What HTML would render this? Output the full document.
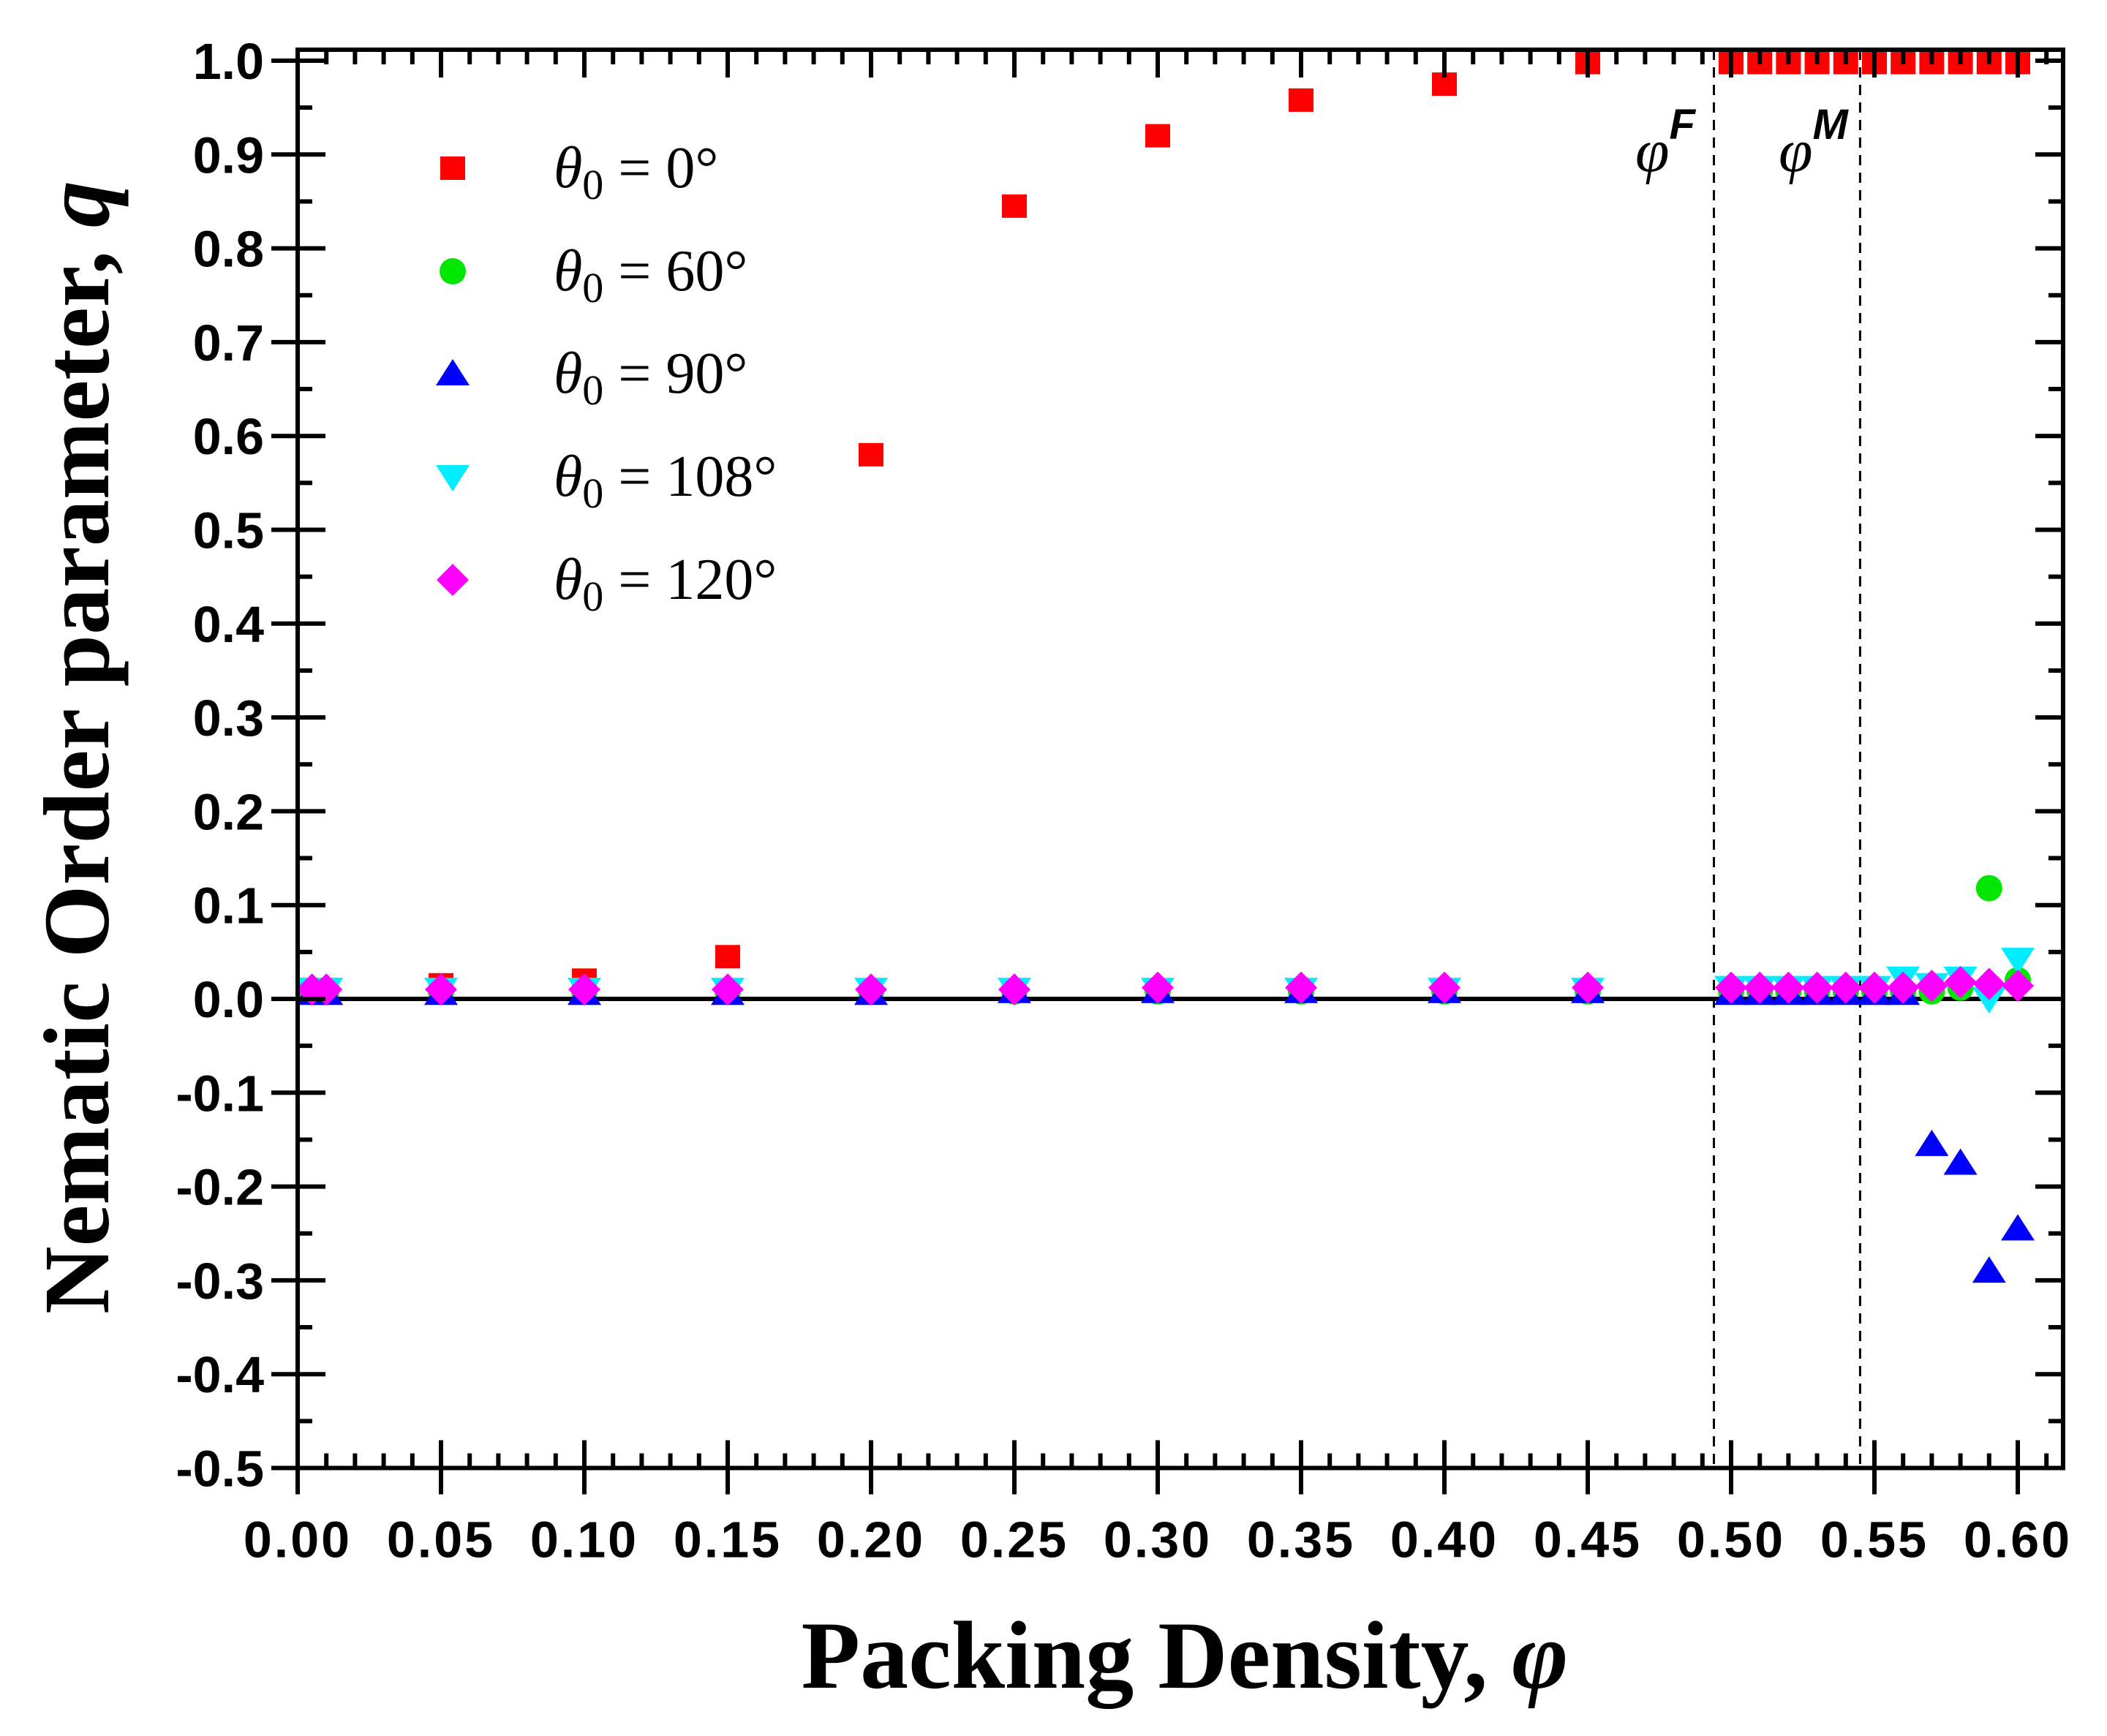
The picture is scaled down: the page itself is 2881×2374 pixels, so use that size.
<!DOCTYPE html>
<html><head><meta charset="utf-8"><style>
html,body{margin:0;padding:0;background:#fff;}
svg{display:block;}
text{font-family:"Liberation Sans",Arial,sans-serif;}
</style></head><body>
<svg id="chart" width="2881" height="2374" viewBox="0 0 2881 2374" xmlns="http://www.w3.org/2000/svg">
<rect x="0" y="0" width="2881" height="2374" fill="#fff"/>
<g id="grid"></g>
<g id="marks"></g>
<g id="axes"></g>
</svg>
<script>
const xTicks = [0,0.05,0.10,0.15,0.20,0.25,0.30,0.35,0.40,0.45,0.50,0.55,0.60];
const xTickLabels = ["0.00","0.05","0.10","0.15","0.20","0.25","0.30","0.35","0.40","0.45","0.50","0.55","0.60"];
const yTicks = [1.0,0.9,0.8,0.7,0.6,0.5,0.4,0.3,0.2,0.1,0.0,-0.1,-0.2,-0.3,-0.4,-0.5];
const yTickLabels = ["1.0","0.9","0.8","0.7","0.6","0.5","0.4","0.3","0.2","0.1","0.0","-0.1","-0.2","-0.3","-0.4","-0.5"];
const phiLines = [0.494, 0.545];

const xs = [0.005,0.01,0.05,0.10,0.15,0.20,0.25,0.30,0.35,0.40,0.45,0.50,0.51,0.52,0.53,0.54,0.55,0.56,0.57,0.58,0.59,0.60];
const q0 = [0.01,0.01,0.015,0.02,0.045,0.58,0.845,0.92,0.958,0.975,0.998,0.998,0.998,0.998,0.998,0.998,0.998,0.998,0.998,0.998,0.998,0.998];
const q60 = [0.008,0.008,0.008,0.008,0.008,0.008,0.008,0.008,0.008,0.008,0.008,0.008,0.008,0.008,0.008,0.008,0.008,0.008,0.008,0.012,0.118,0.02];
const q90 = [0.006,0.006,0.006,0.006,0.006,0.006,0.008,0.008,0.008,0.008,0.008,0.006,0.006,0.006,0.006,0.006,0.006,0.006,-0.155,-0.175,-0.29,-0.245];
const q108 = [0.01,0.01,0.01,0.01,0.01,0.01,0.01,0.01,0.01,0.01,0.01,0.012,0.012,0.012,0.012,0.012,0.012,0.022,0.015,0.022,0.0,0.042];
const q120 = [0.01,0.01,0.01,0.01,0.01,0.01,0.01,0.012,0.012,0.012,0.012,0.012,0.012,0.012,0.012,0.012,0.012,0.012,0.014,0.018,0.016,0.014];

const X0=407, XPER=3920, XMAX=0.6158;
const YZ=1366, YPER=1283;
const xS = v => X0 + v*XPER;
const yS = v => YZ - v*YPER;
const NS="http://www.w3.org/2000/svg";
function mk(tag, attrs, parent){const e=document.createElementNS(NS,tag);for(const k in attrs)e.setAttribute(k,attrs[k]);parent.appendChild(e);return e;}
const axes=document.getElementById('axes'), marks=document.getElementById('marks'), grid=document.getElementById('grid');
const L=xS(0), R=xS(XMAX), T=68, B=yS(-0.5);

phiLines.forEach((p,i)=>{
  const l=mk('line',{x1:xS(p),x2:xS(p),y1:T,y2:B,stroke:'#000','stroke-width':3,'stroke-dasharray':'14,10'},grid);
  
  
});
const zl=mk('line',{x1:L,x2:R,y1:yS(0),y2:yS(0),stroke:'#000','stroke-width':6},grid);



function sq(x,y,c,p){return mk('rect',{x:x-17,y:y-16,width:34,height:32,fill:c},p);}
function circ(x,y,c,p){return mk('circle',{cx:x,cy:y,r:18,fill:c},p);}
function tri(x,y,c,p){return mk('polygon',{points:`${x},${y-20} ${x-23},${y+16} ${x+23},${y+16}`,fill:c},p);}
function itri(x,y,c,p){return mk('polygon',{points:`${x},${y+20} ${x-23},${y-16} ${x+23},${y-16}`,fill:c},p);}
function dia(x,y,c,p){return mk('polygon',{points:`${x},${y-22} ${x+22},${y} ${x},${y+22} ${x-22},${y}`,fill:c},p);}
const series=[
  {d:q0,f:sq,c:'#ff0000',n:'theta-0'},
  {d:q60,f:circ,c:'#00e600',n:'theta-60'},
  {d:q90,f:tri,c:'#0000ff',n:'theta-90'},
  {d:q108,f:itri,c:'#00eeff',n:'theta-108'},
  {d:q120,f:dia,c:'#ff00ff',n:'theta-120'}
];
series.forEach(s=>{
  s.d.forEach((v,i)=>{
    const e=s.f(xS(xs[i]),yS(v),s.c,marks);
    
    
  });
});

const fr=mk('rect',{x:L,y:T,width:R-L,height:B-T,fill:'none',stroke:'#000','stroke-width':6},axes);



yTicks.forEach((v,i)=>{
  const y=yS(v);
  mk('line',{x1:L-36,x2:L+38,y1:y,y2:y,stroke:'#000','stroke-width':6},axes);
  mk('line',{x1:R-38,x2:R,y1:y,y2:y,stroke:'#000','stroke-width':6},axes);
  if(i<yTicks.length-1){const ym=yS(v-0.05);
    mk('line',{x1:L,x2:L+20,y1:ym,y2:ym,stroke:'#000','stroke-width':6},axes);
    mk('line',{x1:R-20,x2:R,y1:ym,y2:ym,stroke:'#000','stroke-width':6},axes);}
  const t=mk('text',{x:L-46,y:y+25,'text-anchor':'end','font-size':70,'font-weight':'bold',fill:'#000'},axes);
  t.textContent=yTickLabels[i];
  
  
});
xTicks.forEach((v,i)=>{
  const x=xS(v);
  mk('line',{x1:x,x2:x,y1:B-38,y2:B+36,stroke:'#000','stroke-width':6},axes);
  mk('line',{x1:x,x2:x,y1:T,y2:T+38,stroke:'#000','stroke-width':6},axes);
  const t=mk('text',{x:x,y:B+122,'text-anchor':'middle','font-size':70,'font-weight':'bold','letter-spacing':3,fill:'#000'},axes);
  t.textContent=xTickLabels[i];
  
  
});
for(let k=1;k<=61;k++){ if(k%5===0) continue; const x=xS(k*0.01);
  mk('line',{x1:x,x2:x,y1:B-20,y2:B,stroke:'#000','stroke-width':6},axes);
  mk('line',{x1:x,x2:x,y1:T,y2:T+20,stroke:'#000','stroke-width':6},axes);}

const xt=mk('text',{x:1620,y:2308,'text-anchor':'middle','font-size':132,'font-weight':'bold',fill:'#000'},axes);
xt.style.fontFamily='"Liberation Serif",serif';
xt.innerHTML='Packing Density, <tspan font-style="italic">φ</tspan>';


const yt=mk('text',{x:0,y:0,'text-anchor':'middle','font-size':128,'font-weight':'bold',fill:'#000',transform:'translate(148,1022) rotate(-90)'},axes);
yt.style.fontFamily='"Liberation Serif",serif';
yt.innerHTML='Nematic Order parameter, <tspan font-style="italic">q</tspan>';



[['F',2236],['M',2432]].forEach(([s,x])=>{
  const t=mk('text',{x:x,y:234,'font-size':84,fill:'#000','font-style':'italic'},axes);
  t.style.fontFamily='"Liberation Serif",serif';
  t.innerHTML='φ<tspan dy="-44" font-size="58" font-weight="bold" font-family="Liberation Sans">'+s+'</tspan>';
  
  
});

const legLabels=['0°','60°','90°','108°','120°'];
const legY=[230,371,511,652,793];
series.forEach((s,i)=>{
  const g=mk('g',{},axes);
  
  
  s.f(619,legY[i],s.c,g);
  const t=mk('text',{x:757,y:legY[i]+26,'font-size':80,fill:'#000'},g);
  t.style.fontFamily='"Liberation Serif",serif';
  t.innerHTML='<tspan font-style="italic">θ</tspan><tspan dy="16" font-size="58">0</tspan><tspan dy="-16"> = '+legLabels[i]+'</tspan>';
});
</script>
</body></html>
